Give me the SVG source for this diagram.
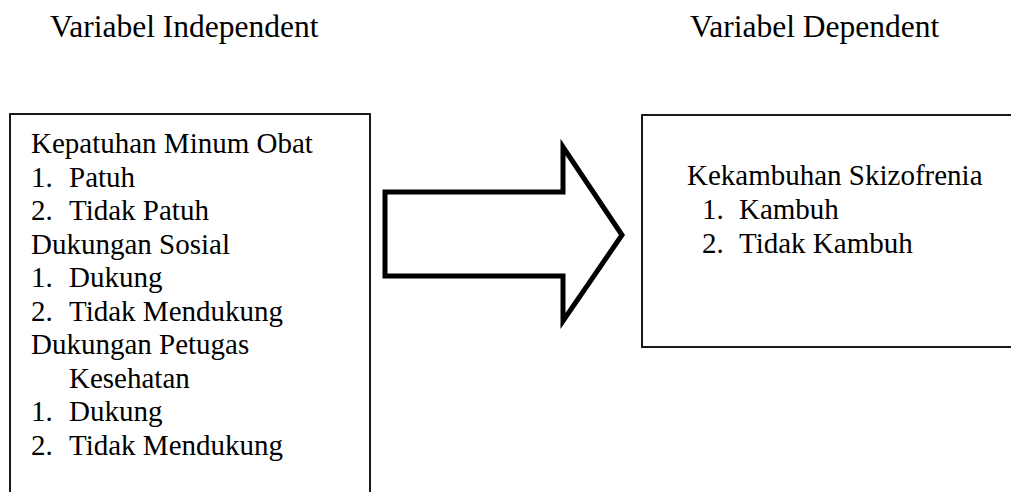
<svg xmlns="http://www.w3.org/2000/svg" width="1011" height="492" viewBox="0 0 1011 492">
<style>
  text { font-family: "Liberation Serif", "Times New Roman", serif; fill: #000; }
  .title { font-size: 31.5px; }
  .t { font-size: 29px; }
  .box { fill: #fff; stroke: #000; stroke-width: 1.8; }
  .arrow { fill: #fff; stroke: #000; stroke-width: 5; stroke-linejoin: miter; }
</style>
<rect width="1011" height="492" fill="#fff"/>
<g id="title-independent"><text class="title" x="50" y="37">Variabel Independent</text></g>
<g id="title-dependent"><text class="title" x="690" y="37">Variabel Dependent</text></g>
<g id="node-independent">
  <rect class="box" x="10" y="114" width="360" height="400"/>
  <text class="t" x="31" y="153">Kepatuhan Minum Obat</text>
  <text class="t" x="31" y="186.6">1.</text><text class="t" x="69" y="186.6">Patuh</text>
  <text class="t" x="31" y="220.1">2.</text><text class="t" x="69" y="220.1">Tidak Patuh</text>
  <text class="t" x="31" y="253.7">Dukungan Sosial</text>
  <text class="t" x="31" y="287.2">1.</text><text class="t" x="69" y="287.2">Dukung</text>
  <text class="t" x="31" y="320.8">2.</text><text class="t" x="69" y="320.8">Tidak Mendukung</text>
  <text class="t" x="31" y="354.3">Dukungan Petugas</text>
  <text class="t" x="69" y="387.9">Kesehatan</text>
  <text class="t" x="31" y="421.4">1.</text><text class="t" x="69" y="421.4">Dukung</text>
  <text class="t" x="31" y="455">2.</text><text class="t" x="69" y="455">Tidak Mendukung</text>
</g>
<g id="connectors">
  <polygon class="arrow" points="385,192 563,192 563,147 622,235 563,321 563,276 385,276"/>
</g>
<g id="node-dependent">
  <rect class="box" x="642" y="115" width="380" height="232"/>
  <text class="t" x="687" y="185">Kekambuhan Skizofrenia</text>
  <text class="t" x="702" y="219">1.</text><text class="t" x="739" y="219">Kambuh</text>
  <text class="t" x="702" y="253">2.</text><text class="t" x="739" y="253">Tidak Kambuh</text>
</g>
</svg>
